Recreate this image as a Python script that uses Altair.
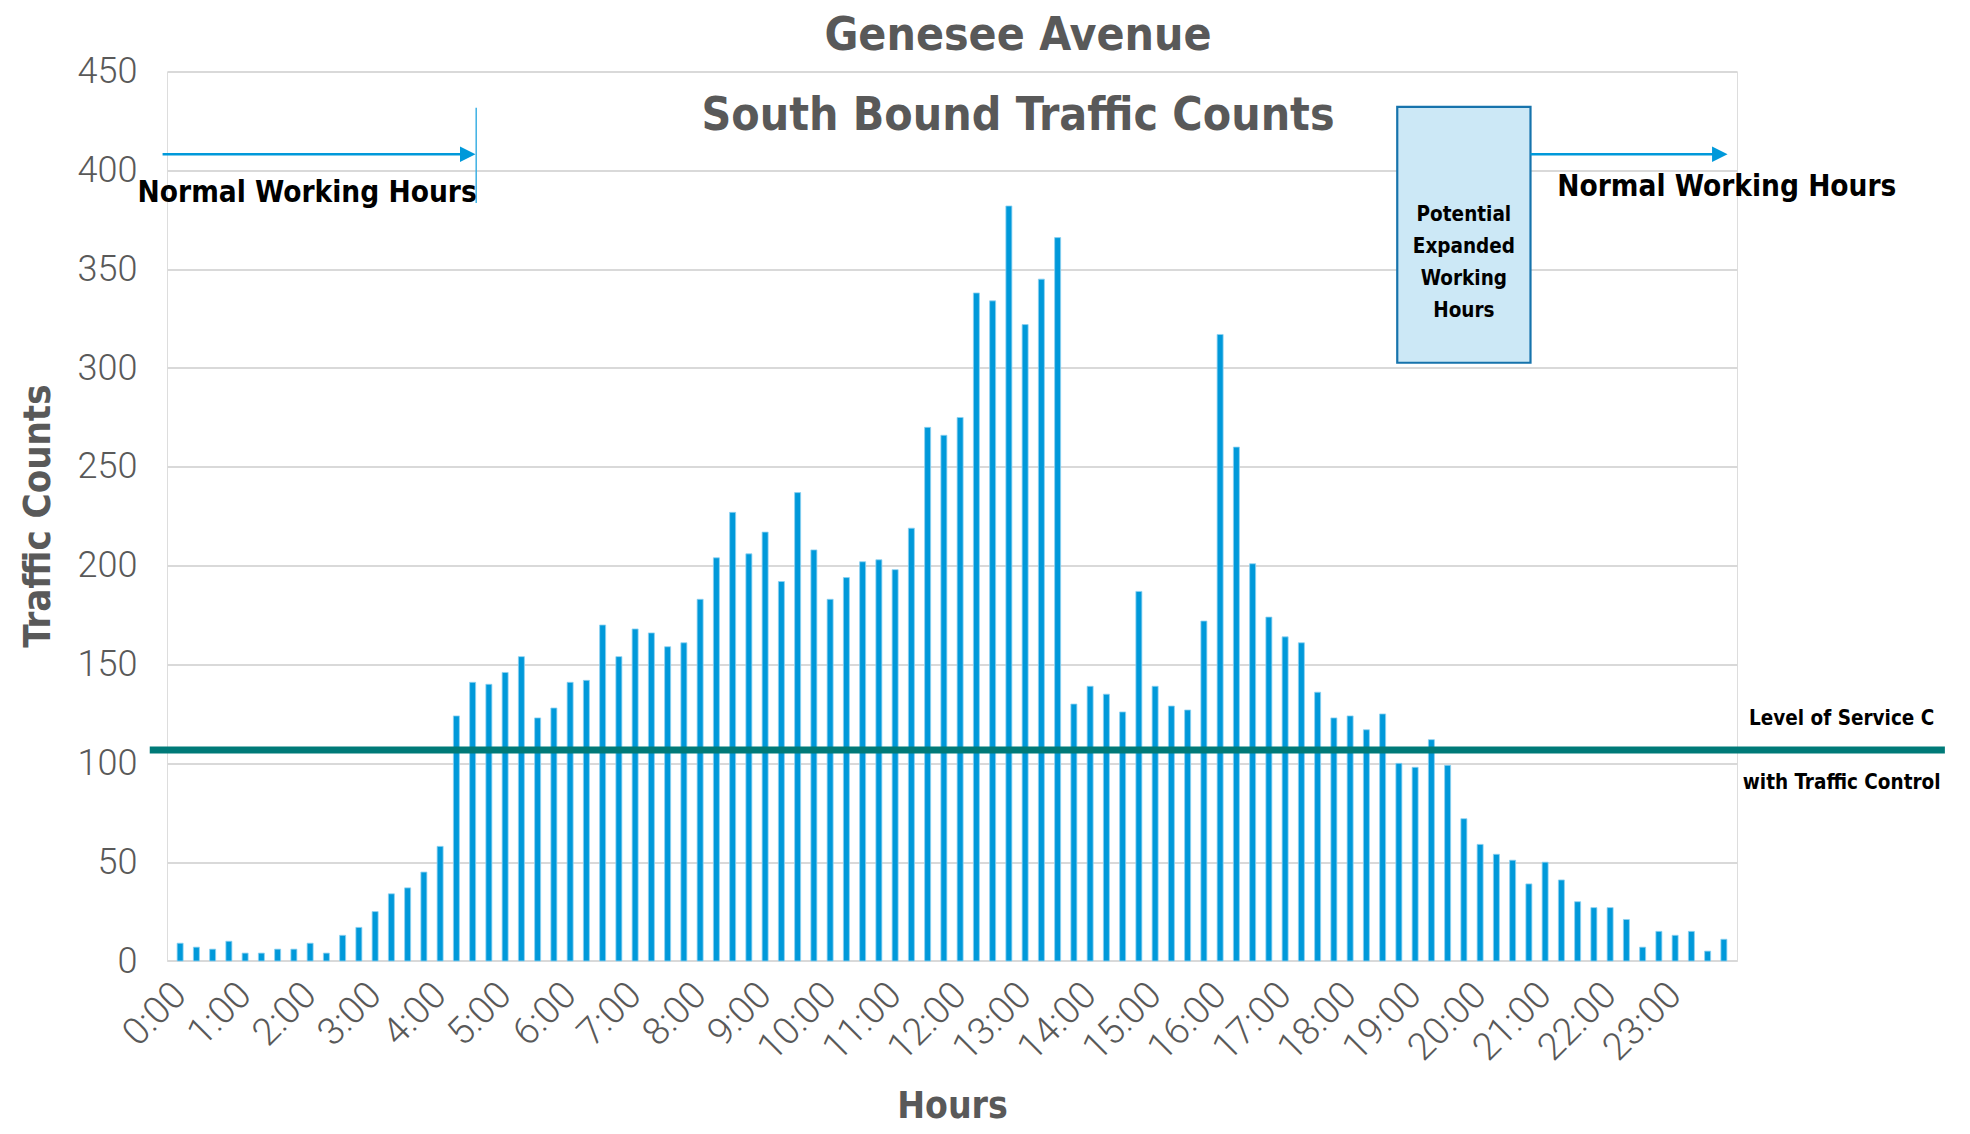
import altair as alt
import pandas as pd

# ---------------- data ----------------
slot_labels = [f"{h}:{m:02d}" for h in range(24) for m in (0, 15, 30, 45)]
counts = [9, 7, 6, 10, 4, 4, 6, 6, 9, 4, 13, 17, 25, 34, 37, 45, 58,
          124, 141, 140, 146, 154, 123, 128, 141, 142,
          170, 154, 168, 166, 159, 161, 183, 204, 227, 206, 217, 192, 237, 208,
          183, 194, 202, 203, 198, 219,
          270, 266, 275, 338, 334, 382, 322, 345, 366,
          130, 139, 135, 126, 187, 139, 129, 127, 172, 317, 260, 201, 174, 164,
          161, 136, 123, 124, 117, 125, 100, 98, 112, 99, 72, 59, 54, 51, 39, 50,
          41, 30, 27, 27, 21, 7, 15, 13, 15, 5, 11]
y_ticks = [0, 50, 100, 150, 200, 250, 300, 350, 400, 450]
hour_ticks = list(range(0, 96, 4))

title_lines = ["Genesee Avenue", "South Bound Traffic Counts"]

# level of service line
los_value = [106.7]
los_extent = [-1.87, 108.6]
los_labels = ["Level of Service C", "with Traffic Control"]
los_label_x = [102.25, 102.25]
los_label_y = [119.3, 87.0]

# normal working hours (left)
left_arrow = [-1.08, 17.8]
left_arrow_tip = [17.7]
arrow_y = [408.2]
left_marker_x = [18.22]
left_marker_y = [431.7, 383.5]
left_text = ["Normal Working Hours"]
left_text_x = [18.25]
left_text_y = [383.9]

# potential expanded working hours box
box_x = [74.9, 83.1]
box_y = [432.2, 302.7]
box_lines = ["Potential", "Expanded", "Working", "Hours"]
box_line_x = [79.0, 79.0, 79.0, 79.0]
box_line_y = [374.6, 358.4, 342.2, 326.0]

# normal working hours (right)
right_arrow = [83.1, 94.8]
right_arrow_tip = [94.75]
right_text = ["Normal Working Hours"]
right_text_x = [84.75]
right_text_y = [386.9]

# ---------------- style ----------------
NARROW = "DejaVu Sans Condensed, DejaVu Sans, sans-serif"
LIGHT = "Roboto, Liberation Sans, sans-serif"
BAR = "#0099DA"
TEAL = "#007A78"
GRAY = "#595959"

df = pd.DataFrame({"slot": list(range(len(counts))), "time": slot_labels, "count": counts})

x_scale = alt.Scale(domain=[-0.5, 95.5], nice=False, zero=False)
y_scale = alt.Scale(domain=[0, 450], nice=False)

x_axis = alt.Axis(
    values=hour_ticks,
    labelExpr="floor(datum.value / 4) + ':00'",
    labelAngle=-45, labelAlign="right", labelBaseline="middle",
    labelPadding=28, labelFont=LIGHT, labelFontSize=38, labelFontWeight=300,
    labelColor=GRAY, labelFlush=False, labelOverlap=False,
    ticks=False, domain=False, grid=False,
    title="Hours", titleFont=NARROW, titleFontSize=37, titleFontWeight="bold",
    titleColor=GRAY, titleY=156, titleBaseline="alphabetic",
)
y_axis = alt.Axis(
    values=y_ticks, grid=True, gridColor="#D9D9D9", gridWidth=2,
    domain=False, ticks=False,
    labelFont=LIGHT, labelFontSize=36, labelFontWeight=300, labelColor=GRAY,
    labelPadding=30,
    title="Traffic Counts", titleFont=NARROW, titleFontSize=38, titleFontWeight="bold",
    titleColor=GRAY, titleX=-118, titleY=444, titleBaseline="alphabetic",
    titleAngle=270, titleAlign="center",
)

bars = alt.Chart(df).mark_bar(size=6, color=BAR, stroke="#8ED2F1", strokeWidth=0.8).encode(
    x=alt.X("slot:Q", scale=x_scale, axis=x_axis),
    y=alt.Y("count:Q", scale=y_scale, axis=y_axis),
    tooltip=["time:N", "count:Q"],
)

los_df = pd.DataFrame({"slot": [los_extent[0]], "slot_end": [los_extent[1]], "count": los_value})
los = alt.Chart(los_df).mark_rule(color=TEAL, strokeWidth=7).encode(
    x="slot:Q", x2="slot_end:Q", y="count:Q")

los_txt_df = pd.DataFrame({"slot": los_label_x, "count": los_label_y, "label": los_labels})
los_txt = alt.Chart(los_txt_df).mark_text(
    font=NARROW, fontSize=20.5, fontWeight="bold", color="#000000", align="center",
    baseline="alphabetic").encode(x="slot:Q", y="count:Q", text="label:N")

# left arrow
la_df = pd.DataFrame({"slot": [left_arrow[0]], "slot_end": [left_arrow[1]], "count": arrow_y})
la = alt.Chart(la_df).mark_rule(color=BAR, strokeWidth=2.5).encode(
    x="slot:Q", x2="slot_end:Q", y="count:Q")
tip_df = pd.DataFrame({"slot": left_arrow_tip + right_arrow_tip, "count": arrow_y * 2})
tips = alt.Chart(tip_df).mark_point(
    shape="M-1,-1L1,0L-1,1Z", size=240, filled=True, color=BAR, opacity=1, strokeWidth=0
).encode(x="slot:Q", y="count:Q")
lm_df = pd.DataFrame({"slot": left_marker_x, "count": [left_marker_y[0]], "count_end": [left_marker_y[1]]})
lm = alt.Chart(lm_df).mark_rule(color="#3DB0E3", strokeWidth=1.5).encode(
    x="slot:Q", y="count:Q", y2="count_end:Q")
lt_df = pd.DataFrame({"slot": left_text_x, "count": left_text_y, "label": left_text})
lt = alt.Chart(lt_df).mark_text(
    font=NARROW, fontSize=29.5, fontWeight="bold", color="#000000", align="right",
    baseline="alphabetic").encode(x="slot:Q", y="count:Q", text="label:N")

# box
box_df = pd.DataFrame({"slot": [box_x[0]], "slot_end": [box_x[1]],
                       "count": [box_y[0]], "count_end": [box_y[1]]})
box = alt.Chart(box_df).mark_rect(fill="#CCE8F6", stroke="#1673AC", strokeWidth=2.2).encode(
    x="slot:Q", x2="slot_end:Q", y="count:Q", y2="count_end:Q")
bt_df = pd.DataFrame({"slot": box_line_x, "count": box_line_y, "label": box_lines})
bt = alt.Chart(bt_df).mark_text(
    font=NARROW, fontSize=20.5, fontWeight="bold", color="#000000", align="center",
    baseline="alphabetic").encode(x="slot:Q", y="count:Q", text="label:N")

# right arrow
ra_df = pd.DataFrame({"slot": [right_arrow[0]], "slot_end": [right_arrow[1]], "count": arrow_y})
ra = alt.Chart(ra_df).mark_rule(color=BAR, strokeWidth=2.5).encode(
    x="slot:Q", x2="slot_end:Q", y="count:Q")
rt_df = pd.DataFrame({"slot": right_text_x, "count": right_text_y, "label": right_text})
rt = alt.Chart(rt_df).mark_text(
    font=NARROW, fontSize=29.5, fontWeight="bold", color="#000000", align="left",
    baseline="alphabetic").encode(x="slot:Q", y="count:Q", text="label:N")

chart = alt.layer(bars, los, los_txt, box, bt, la, ra, lm, tips, lt, rt).properties(
    width=1570, height=889.4,
    autosize=alt.AutoSizeParams(type="none"),
    padding={"left": 159, "top": 63.6, "right": 221, "bottom": 165},
    title=alt.TitleParams(
        text=title_lines, font=NARROW, fontSize=46, fontWeight="bold", color=GRAY,
        anchor="middle", frame="group", dx=66, offset=-86, lineHeight=80,
    ),
).configure_view(stroke=None).configure(background="white")

chart.save("out.html", embed_options={"renderer": "svg", "actions": False})
